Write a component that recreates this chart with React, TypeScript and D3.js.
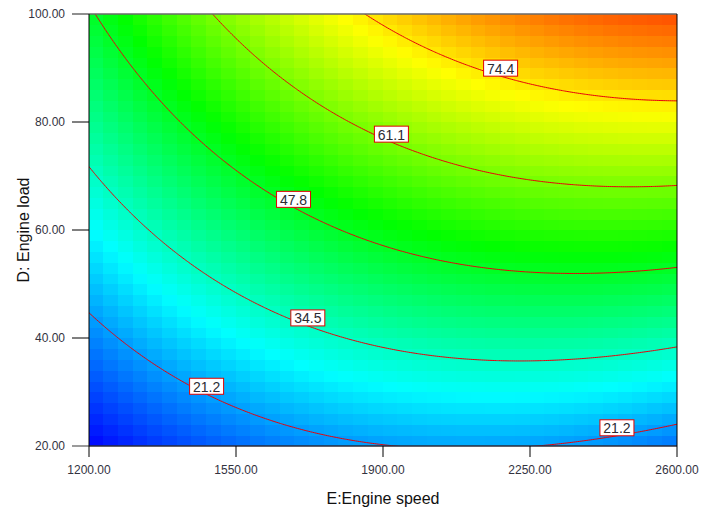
import React, { useMemo } from 'react';
import * as d3 from 'd3';

// Chart frame
const W = 713;
const H = 513;
const plotLeft = 89;
const plotRight = 677;
const plotTop = 14;
const plotBottom = 446;

// Factor ranges and axis ticks
const speedDomain = [1200, 2600];
const loadDomain = [20, 100];
const speedTicks = [1200, 1550, 1900, 2250, 2600];
const loadTicks = [20, 40, 60, 80, 100];

// Fitted quadratic response surface in coded units (E = speed, D = load)
// y = b0 + b1*E + b2*D + b12*E*D + b11*E^2 + b22*D^2
const modelTerms = ['Intercept', 'E', 'D', 'ED', 'E^2', 'D^2'];
const modelCoefficients = [49.78, 12.51, 27.33, 7.78, -8.37, -1.43];

// Contour levels and where their labels sit (speed along the contour)
const contourLevels = [21.2, 34.5, 47.8, 61.1, 74.4];
const labelLevels = [74.4, 61.1, 47.8, 34.5, 21.2, 21.2];
const labelSpeeds = [2180, 1920, 1687, 1721, 1480, 2457];

// Colour ramp for the response
const colorStops = ['#0000ff', '#00ffff', '#00ff00', '#ffff00', '#ff0000'];
const colorRange = [7.9, 94];
const gridCells = 40;

function predict(speed: number, load: number): number {
  const e = (speed - 1900) / 700;
  const d = (load - 60) / 40;
  const terms = [1, e, d, e * d, e * e, d * d];
  let s = 0;
  for (let k = 0; k < modelTerms.length; k++) s += modelCoefficients[k] * terms[k];
  return s;
}

function loadOnContour(speed: number, level: number): number {
  let lo = loadDomain[0];
  let hi = loadDomain[1];
  for (let it = 0; it < 60; it++) {
    const mid = (lo + hi) / 2;
    if (predict(speed, mid) < level) lo = mid;
    else hi = mid;
  }
  return (lo + hi) / 2;
}

export default function App() {
  const x = d3.scaleLinear().domain(speedDomain).range([plotLeft, plotRight]);
  const y = d3.scaleLinear().domain(loadDomain).range([plotBottom, plotTop]);

  const color = d3
    .scaleLinear<string>()
    .domain(d3.range(colorStops.length).map((k) => colorRange[0] + (k * (colorRange[1] - colorRange[0])) / (colorStops.length - 1)))
    .range(colorStops)
    .interpolate(d3.interpolateRgb)
    .clamp(true);

  // Blocky response grid
  const cells = useMemo(() => {
    const out: { x0: number; x1: number; y0: number; y1: number; fill: string }[] = [];
    const dE = (speedDomain[1] - speedDomain[0]) / gridCells;
    const dD = (loadDomain[1] - loadDomain[0]) / gridCells;
    for (let i = 0; i < gridCells; i++) {
      for (let j = 0; j < gridCells; j++) {
        const e0 = speedDomain[0] + i * dE;
        const d0 = loadDomain[0] + j * dD;
        const v = predict(e0 + dE / 2, d0 + dD / 2);
        out.push({
          x0: Math.floor(x(e0)),
          x1: Math.ceil(x(e0 + dE)),
          y0: Math.floor(y(d0 + dD)),
          y1: Math.ceil(y(d0)),
          fill: color(v),
        });
      }
    }
    return out;
  }, []);

  // Contour lines from a fine sampling of the surface
  const contourPaths = useMemo(() => {
    const nx = 320;
    const ny = 260;
    const pad = 3;
    const stepE = (speedDomain[1] - speedDomain[0]) / (nx - 1 - 2 * pad);
    const stepD = (loadDomain[1] - loadDomain[0]) / (ny - 1 - 2 * pad);
    const gE = (c: number) => speedDomain[0] + (c - 0.5 - pad) * stepE;
    const gD = (c: number) => loadDomain[0] + (c - 0.5 - pad) * stepD;
    const values = new Array(nx * ny);
    for (let j = 0; j < ny; j++) {
      for (let i = 0; i < nx; i++) {
        values[j * nx + i] = predict(gE(i + 0.5), gD(j + 0.5));
      }
    }
    const gen = d3.contours().size([nx, ny]).thresholds(contourLevels);
    return gen(values).map((c) => {
      let dstr = '';
      c.coordinates.forEach((poly) => {
        poly.forEach((ring) => {
          dstr +=
            'M' +
            ring.map((p) => `${x(gE(p[0])).toFixed(2)},${y(gD(p[1])).toFixed(2)}`).join('L') +
            'Z';
        });
      });
      return { level: c.value, d: dstr };
    });
  }, []);

  const labels = labelLevels.map((lv, k) => {
    const sp = labelSpeeds[k];
    const ld = loadOnContour(sp, lv);
    return { text: lv.toFixed(1), px: x(sp), py: y(ld) };
  });

  const font = "'Liberation Sans', Arial, sans-serif";

  return (
    <svg width={W} height={H} style={{ position: 'absolute', left: 0, top: 0, background: '#fff' }}>
      <defs>
        <clipPath id="plot-clip">
          <rect x={plotLeft} y={plotTop} width={plotRight - plotLeft} height={plotBottom - plotTop} />
        </clipPath>
      </defs>

      <g shapeRendering="crispEdges">
        {cells.map((c, k) => (
          <rect key={k} x={c.x0} y={c.y0} width={c.x1 - c.x0} height={c.y1 - c.y0} fill={c.fill} />
        ))}
      </g>

      <g clipPath="url(#plot-clip)">
        {contourPaths.map((p, k) => (
          <path key={k} d={p.d} fill="none" stroke="#e8000a" strokeWidth={1} />
        ))}
      </g>

      {labels.map((l, k) => (
        <g key={k}>
          <rect x={l.px - 17} y={l.py - 16} width={34} height={16} fill="#fff" stroke="#e00000" strokeWidth={1} />
          <text
            x={l.px}
            y={l.py - 7.5}
            textAnchor="middle"
            dominantBaseline="central"
            fontFamily={font}
            fontSize={14}
            fill="#2b2b33"
          >
            {l.text}
          </text>
        </g>
      ))}

      {/* frame */}
      <line x1={72} x2={plotRight} y1={plotTop} y2={plotTop} stroke="#6a6a6a" strokeWidth={1.5} />
      <line x1={72} x2={plotLeft} y1={plotBottom} y2={plotBottom} stroke="#7a7a7a" strokeWidth={1.5} />
      <line x1={plotLeft} x2={plotRight} y1={plotBottom} y2={plotBottom} stroke="#2a2a3a" strokeWidth={1.5} />
      <line x1={plotLeft} x2={plotLeft} y1={plotTop} y2={plotBottom} stroke="#000" strokeWidth={1} />
      <line x1={plotRight} x2={plotRight} y1={plotTop} y2={plotBottom} stroke="#000" strokeWidth={1} />

      {/* y axis */}
      {loadTicks.map((t) => (
        <g key={t}>
          {t !== loadDomain[0] && t !== loadDomain[1] && (
            <line x1={72} x2={plotLeft} y1={y(t)} y2={y(t)} stroke="#000" strokeWidth={1} />
          )}
          <text x={65} y={y(t)} textAnchor="end" dominantBaseline="central" fontFamily={font} fontSize={12} fill="#33333f">
            {t.toFixed(2)}
          </text>
        </g>
      ))}

      {/* x axis */}
      {speedTicks.map((t) => (
        <g key={t}>
          <line x1={x(t)} x2={x(t)} y1={plotBottom} y2={plotBottom + 11} stroke="#000" strokeWidth={1} />
          <text x={x(t)} y={470} textAnchor="middle" dominantBaseline="central" fontFamily={font} fontSize={12} fill="#33333f">
            {t.toFixed(2)}
          </text>
        </g>
      ))}

      <text x={(plotLeft + plotRight) / 2} y={498} textAnchor="middle" dominantBaseline="central" fontFamily={font} fontSize={16} fill="#111">
        E:Engine speed
      </text>
      <text
        transform={`translate(23, ${(plotTop + plotBottom) / 2}) rotate(-90)`}
        textAnchor="middle"
        dominantBaseline="central"
        fontFamily={font}
        fontSize={16}
        fill="#111"
      >
        D: Engine load
      </text>
    </svg>
  );
}
